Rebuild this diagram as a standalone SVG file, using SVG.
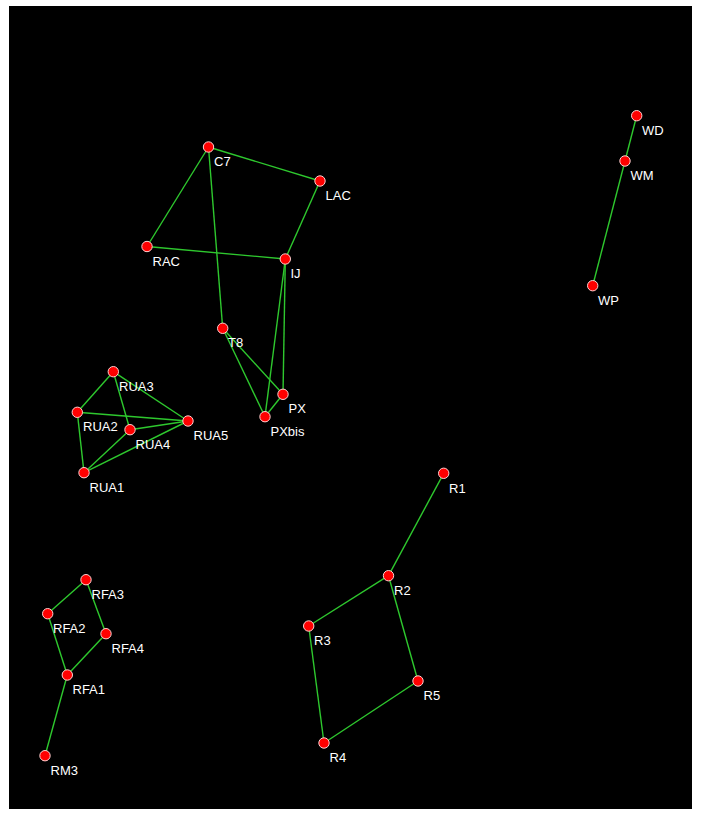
<svg xmlns="http://www.w3.org/2000/svg" width="701" height="813" viewBox="0 0 701 813">
<style>
.e{stroke:#2ec82e;stroke-width:1.4;fill:none}
.n{fill:#ff0000;stroke:#ffd0d0;stroke-width:1}
.t{fill:#ffffff;font-family:"Liberation Sans",Arial,sans-serif;font-size:13px}
</style>
<rect x="0" y="0" width="701" height="813" fill="#ffffff"/>
<rect x="9" y="6" width="683" height="803" fill="#000000"/>
<g id="connectors">
<line class="e" x1="208.5" y1="147" x2="320" y2="181"/>
<line class="e" x1="208.5" y1="147" x2="147" y2="246.5"/>
<line class="e" x1="208.5" y1="147" x2="222.7" y2="328.3"/>
<line class="e" x1="147" y1="246.5" x2="285.3" y2="259"/>
<line class="e" x1="320" y1="181" x2="285.3" y2="259"/>
<line class="e" x1="285.3" y1="259" x2="283" y2="394.3"/>
<line class="e" x1="285.3" y1="259" x2="265" y2="416.7"/>
<line class="e" x1="222.7" y1="328.3" x2="283" y2="394.3"/>
<line class="e" x1="222.7" y1="328.3" x2="265" y2="416.7"/>
<line class="e" x1="283" y1="394.3" x2="265" y2="416.7"/>
<line class="e" x1="113.3" y1="371.7" x2="77.3" y2="412.3"/>
<line class="e" x1="113.3" y1="371.7" x2="130" y2="429.7"/>
<line class="e" x1="113.3" y1="371.7" x2="188" y2="421"/>
<line class="e" x1="77.3" y1="412.3" x2="188" y2="421"/>
<line class="e" x1="77.3" y1="412.3" x2="84" y2="472.7"/>
<line class="e" x1="130" y1="429.7" x2="188" y2="421"/>
<line class="e" x1="84" y1="472.7" x2="188" y2="421"/>
<line class="e" x1="84" y1="472.7" x2="130" y2="429.7"/>
<line class="e" x1="636.7" y1="115.7" x2="625" y2="161"/>
<line class="e" x1="625" y1="161" x2="592.7" y2="285.7"/>
<line class="e" x1="443.7" y1="473.3" x2="388.5" y2="575.7"/>
<line class="e" x1="388.5" y1="575.7" x2="308.7" y2="626"/>
<line class="e" x1="388.5" y1="575.7" x2="418" y2="681"/>
<line class="e" x1="308.7" y1="626" x2="324" y2="743"/>
<line class="e" x1="418" y1="681" x2="324" y2="743"/>
<line class="e" x1="86" y1="579.7" x2="47.7" y2="613.7"/>
<line class="e" x1="86" y1="579.7" x2="106" y2="633.7"/>
<line class="e" x1="47.7" y1="613.7" x2="67.3" y2="675"/>
<line class="e" x1="106" y1="633.7" x2="67.3" y2="675"/>
<line class="e" x1="67.3" y1="675" x2="45" y2="755.7"/>
</g>
<g id="C7"><circle class="n" cx="208.5" cy="147" r="5.2"/><text class="t" x="214" y="166">C7</text></g>
<g id="LAC"><circle class="n" cx="320" cy="181" r="5.2"/><text class="t" x="325.5" y="200">LAC</text></g>
<g id="RAC"><circle class="n" cx="147" cy="246.5" r="5.2"/><text class="t" x="152.5" y="266">RAC</text></g>
<g id="IJ"><circle class="n" cx="285.3" cy="259" r="5.2"/><text class="t" x="290.5" y="278">IJ</text></g>
<g id="T8"><circle class="n" cx="222.7" cy="328.3" r="5.2"/><text class="t" x="228" y="347">T8</text></g>
<g id="PX"><circle class="n" cx="283" cy="394.3" r="5.2"/><text class="t" x="288.5" y="413">PX</text></g>
<g id="PXbis"><circle class="n" cx="265" cy="416.7" r="5.2"/><text class="t" x="270.5" y="435.5">PXbis</text></g>
<g id="RUA3"><circle class="n" cx="113.3" cy="371.7" r="5.2"/><text class="t" x="119" y="390.5">RUA3</text></g>
<g id="RUA2"><circle class="n" cx="77.3" cy="412.3" r="5.2"/><text class="t" x="83" y="431">RUA2</text></g>
<g id="RUA4"><circle class="n" cx="130" cy="429.7" r="5.2"/><text class="t" x="135.5" y="448.5">RUA4</text></g>
<g id="RUA5"><circle class="n" cx="188" cy="421" r="5.2"/><text class="t" x="193.5" y="440">RUA5</text></g>
<g id="RUA1"><circle class="n" cx="84" cy="472.7" r="5.2"/><text class="t" x="89.5" y="492">RUA1</text></g>
<g id="WD"><circle class="n" cx="636.7" cy="115.7" r="5.2"/><text class="t" x="642" y="135">WD</text></g>
<g id="WM"><circle class="n" cx="625" cy="161" r="5.2"/><text class="t" x="630.5" y="180">WM</text></g>
<g id="WP"><circle class="n" cx="592.7" cy="285.7" r="5.2"/><text class="t" x="598" y="305">WP</text></g>
<g id="R1"><circle class="n" cx="443.7" cy="473.3" r="5.2"/><text class="t" x="449" y="492.5">R1</text></g>
<g id="R2"><circle class="n" cx="388.5" cy="575.7" r="5.2"/><text class="t" x="394" y="595">R2</text></g>
<g id="R3"><circle class="n" cx="308.7" cy="626" r="5.2"/><text class="t" x="314" y="645">R3</text></g>
<g id="R5"><circle class="n" cx="418" cy="681" r="5.2"/><text class="t" x="423.5" y="700">R5</text></g>
<g id="R4"><circle class="n" cx="324" cy="743" r="5.2"/><text class="t" x="329.5" y="762">R4</text></g>
<g id="RFA3"><circle class="n" cx="86" cy="579.7" r="5.2"/><text class="t" x="91.5" y="599">RFA3</text></g>
<g id="RFA2"><circle class="n" cx="47.7" cy="613.7" r="5.2"/><text class="t" x="53" y="633">RFA2</text></g>
<g id="RFA4"><circle class="n" cx="106" cy="633.7" r="5.2"/><text class="t" x="111.5" y="653">RFA4</text></g>
<g id="RFA1"><circle class="n" cx="67.3" cy="675" r="5.2"/><text class="t" x="72.5" y="694">RFA1</text></g>
<g id="RM3"><circle class="n" cx="45" cy="755.7" r="5.2"/><text class="t" x="50.5" y="775">RM3</text></g>
</svg>
